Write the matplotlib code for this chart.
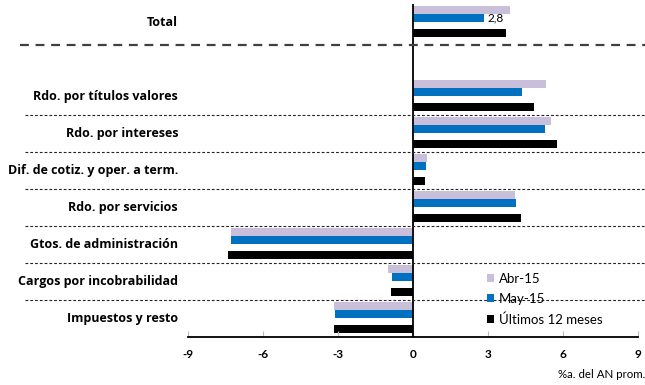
import matplotlib
matplotlib.use("Agg")
import matplotlib.pyplot as plt
from matplotlib.patches import Patch
from matplotlib.lines import Line2D

categories = ["Total", "", "Rdo. por títulos valores", "Rdo. por intereses",
              "Dif. de cotiz. y oper. a term.", "Rdo. por servicios",
              "Gtos. de administración", "Cargos por incobrabilidad",
              "Impuestos y resto"]
abr15 = [3.88, None, 5.32, 5.52, 0.57, 4.08, -7.29, -0.99, -3.15]
may15 = [2.85, None, 4.37, 5.28, 0.52, 4.11, -7.29, -0.83, -3.11]
ult12 = [3.73, None, 4.85, 5.77, 0.47, 4.31, -7.41, -0.88, -3.16]
series_names = ["Abr-15", "May-15", "Últimos 12 meses"]
xticks = [-9, -6, -3, 0, 3, 6, 9]
total_label = "2,8"
xlabel = "%a. del AN prom."

colors = ["#C9BFDB", "#0070C0", "#000000"]
offsets = [0.162, 0.378, 0.784]
h = 0.216

FAM = ['Open Sans', 'DejaVu Sans']
LFAM = ['Lato', 'DejaVu Sans']

W, H = 645, 385
fig = plt.figure(figsize=(W / 100, H / 100), dpi=100)
ax = fig.add_axes([188 / W, 1 - 337 / H, 450 / W, 333 / H])

for s, (vals, col, off) in enumerate(zip([abr15, may15, ult12], colors, offsets)):
    for i, v in enumerate(vals):
        if v is None:
            continue
        ax.barh(i + off, v, height=h, color=col, edgecolor='none')

ax.set_xlim(-9, 9)
ax.set_ylim(9, 0)
ax.set_yticks([])
ax.set_xticks(xticks)
ax.set_xticklabels([str(t) for t in xticks], fontsize=8.5, fontweight='bold',
                   family=LFAM)
ax.tick_params(axis='x', direction='in', length=4, color='#BBBBBB', pad=9)
for sp in ['top', 'right', 'left']:
    ax.spines[sp].set_visible(False)
ax.spines['bottom'].set_linewidth(1.3)
ax.axvline(0, color='black', lw=1.3)

for i, c in enumerate(categories):
    if c:
        fig.text(178 / W, 1 - (4 + 37 * i + 18.5) / H, c, ha='right', va='center',
                 fontsize=9, fontweight='bold', family=FAM)

def ypix(yd):
    return 1 - (4 + 37 * yd) / H

for b in range(3, 9):
    fig.add_artist(Line2D([25 / W, 1.0], [ypix(b), ypix(b)], color='#222222', lw=0.8,
                          linestyle=(0, (2.5, 1.8))))
fig.add_artist(Line2D([20 / W, 1.0], [ypix(1.11), ypix(1.11)], color='#404040', lw=1.6,
                      linestyle=(0, (4, 3))))

ax.text(2.85 + 0.15, offsets[1], total_label, va='center', ha='left', fontsize=8.5,
        family=LFAM)

handles = [Patch(facecolor=c, edgecolor='none') for c in colors]
fig.legend(handles, series_names, loc='upper left',
           bbox_to_anchor=(484 / W, 1 - 270 / H), frameon=False,
           prop={'family': LFAM, 'size': 9.5},
           handlelength=0.55, handleheight=0.55, handletextpad=0.4,
           labelspacing=0.62, borderaxespad=0, borderpad=0.2)

fig.text(645 / W, 1 - 375 / H, xlabel, ha='right', va='center', fontsize=8.3,
         family=LFAM)

fig.savefig("out.png", dpi=100)
